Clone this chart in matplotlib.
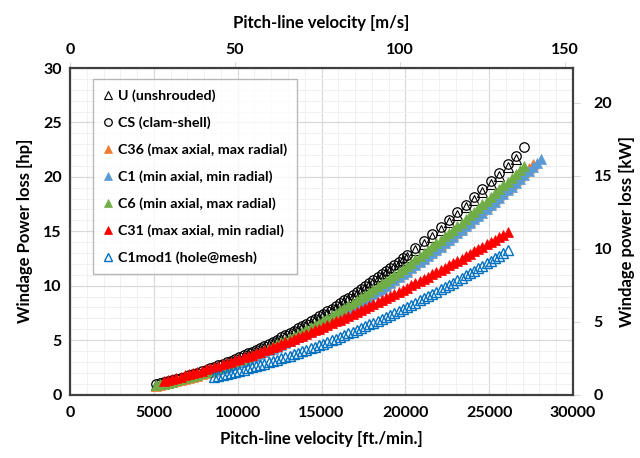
import matplotlib
matplotlib.use("Agg")
import matplotlib.pyplot as plt
from matplotlib.ticker import MultipleLocator

plt.rcParams['font.family'] = ['Lato', 'DejaVu Sans']
plt.rcParams['font.weight'] = 'bold'

# Pitch-line velocity grid [ft/min] for the triangle series
speed_ftmin = [5100, 5350, 5600, 5850, 6100, 6350, 6600, 6850, 7100, 7350,
               7600, 7850, 8100, 8350, 8600, 8850, 9100, 9350, 9600, 9850,
               10100, 10350, 10600, 10850, 11100, 11350, 11600, 11850, 12100, 12350,
               12600, 12850, 13100, 13350, 13600, 13850, 14100, 14350, 14600, 14850,
               15100, 15350, 15600, 15850, 16100, 16350, 16600, 16850, 17100, 17350,
               17600, 17850, 18100, 18350, 18600, 18850, 19100, 19350, 19600, 19850,
               20100, 20350, 20600, 20850, 21100, 21350, 21600, 21850, 22100, 22350,
               22600, 22850, 23100, 23350, 23600, 23850, 24100, 24350, 24600, 24850,
               25100, 25350, 25600, 25850, 26100, 26350, 26600, 26850, 27100, 27350,
               27600, 27850, 28100]

# Pitch-line velocity grid [ft/min] for U and CS
speed_ftmin_cs = [5100, 5350, 5600, 5850, 6100, 6350, 6600, 6850, 7100, 7350,
                  7600, 7850, 8100, 8350, 8600, 8850, 9100, 9350, 9600, 9850,
                  10100, 10350, 10600, 10850, 11100, 11350, 11600, 11850, 12100, 12350,
                  12600, 12850, 13100, 13350, 13600, 13850, 14100, 14350, 14600, 14850,
                  15100, 15350, 15600, 15850, 16100, 16350, 16600, 16850, 17100, 17350,
                  17600, 17850, 18100, 18350, 18600, 18850, 19100, 19350, 19600, 19850,
                  20100, 20600, 21100, 21600, 22100, 22600, 23100, 23600, 24100, 24600,
                  25100, 25600, 26100, 26600, 27100]

# Windage power loss [hp]; each series starts at the given grid index
u_start = 0
u_hp = [0.90, 0.99, 1.08, 1.17, 1.27, 1.37, 1.48, 1.59, 1.70, 1.82, 1.94, 2.06, 2.19, 2.32,
        2.46, 2.60, 2.74, 2.89, 3.04, 3.20, 3.36, 3.52, 3.68, 3.85, 4.02, 4.20, 4.38, 4.56,
        4.75, 4.94, 5.13, 5.33, 5.53, 5.74, 5.95, 6.16, 6.38, 6.60, 6.82, 7.05, 7.28, 7.51,
        7.75, 7.99, 8.24, 8.49, 8.74, 8.99, 9.25, 9.51, 9.78, 10.05, 10.32, 10.60, 10.88,
        11.16, 11.45, 11.74, 12.03, 12.33, 12.63, 13.24, 13.87, 14.51, 15.16, 15.83, 16.51,
        17.20, 17.91, 18.63, 19.37, 20.12, 20.88, 21.66]

cs_start = 0
cs_hp = [0.93, 1.02, 1.11, 1.21, 1.31, 1.41, 1.52, 1.63, 1.75, 1.87, 1.99, 2.12, 2.25, 2.39,
         2.53, 2.67, 2.81, 2.96, 3.12, 3.28, 3.44, 3.60, 3.77, 3.94, 4.12, 4.30, 4.48, 4.67,
         4.86, 5.05, 5.25, 5.45, 5.65, 5.86, 6.07, 6.29, 6.51, 6.73, 6.96, 7.19, 7.42, 7.66,
         7.90, 8.14, 8.39, 8.64, 8.89, 9.15, 9.41, 9.68, 9.95, 10.22, 10.49, 10.77, 11.06,
         11.34, 11.63, 11.92, 12.22, 12.52, 12.83, 13.44, 14.07, 14.72, 15.38, 16.05, 16.74,
         17.44, 18.15, 18.88, 19.62, 20.38, 21.14, 21.93, 22.72]

c36_start = 0
c36_hp = [0.80, 0.88, 0.96, 1.04, 1.13, 1.22, 1.32, 1.42, 1.52, 1.63, 1.74, 1.85, 1.96, 2.08,
          2.21, 2.33, 2.46, 2.59, 2.73, 2.87, 3.01, 3.16, 3.31, 3.46, 3.62, 3.78, 3.94, 4.11,
          4.28, 4.45, 4.63, 4.81, 4.99, 5.18, 5.37, 5.56, 5.76, 5.96, 6.16, 6.36, 6.57, 6.79,
          7.01, 7.23, 7.45, 7.67, 7.90, 8.13, 8.37, 8.61, 8.85, 9.10, 9.35, 9.60, 9.85, 10.11,
          10.37, 10.64, 10.91, 11.18, 11.45, 11.73, 12.02, 12.30, 12.58, 12.87, 13.16, 13.46,
          13.77, 14.07, 14.38, 14.68, 14.99, 15.31, 15.64, 15.96, 16.29, 16.61, 16.94, 17.28,
          17.63, 17.97, 18.31, 18.66, 19.01, 19.36, 19.72, 20.08, 20.45, 20.82, 21.19]

c1_start = 14
c1_hp = [2.18, 2.30, 2.43, 2.56, 2.69, 2.83, 2.97, 3.12, 3.27, 3.42, 3.57, 3.73, 3.89, 4.05,
         4.22, 4.39, 4.57, 4.75, 4.93, 5.11, 5.30, 5.49, 5.68, 5.88, 6.08, 6.28, 6.48, 6.70,
         6.92, 7.13, 7.35, 7.57, 7.80, 8.03, 8.26, 8.50, 8.74, 8.98, 9.23, 9.47, 9.72, 9.98,
         10.24, 10.50, 10.77, 11.03, 11.30, 11.58, 11.86, 12.14, 12.42, 12.70, 12.99, 13.29,
         13.59, 13.89, 14.19, 14.49, 14.80, 15.12, 15.44, 15.76, 16.08, 16.40, 16.72, 17.06,
         17.40, 17.73, 18.07, 18.41, 18.76, 19.11, 19.46, 19.82, 20.18, 20.54, 20.91, 21.27,
         21.64]

c6_start = 0
c6_hp = [0.84, 0.92, 1.01, 1.10, 1.19, 1.29, 1.39, 1.49, 1.60, 1.71, 1.82, 1.94, 2.06, 2.18,
         2.31, 2.44, 2.58, 2.71, 2.85, 3.00, 3.15, 3.30, 3.45, 3.61, 3.77, 3.94, 4.11, 4.28,
         4.46, 4.64, 4.82, 5.00, 5.19, 5.38, 5.58, 5.78, 5.98, 6.19, 6.40, 6.61, 6.83, 7.05,
         7.27, 7.49, 7.72, 7.95, 8.19, 8.43, 8.67, 8.92, 9.17, 9.42, 9.68, 9.94, 10.20, 10.46,
         10.73, 11.00, 11.28, 11.56, 11.84, 12.12, 12.41, 12.70, 13.00, 13.30, 13.60, 13.90,
         14.21, 14.52, 14.84, 15.15, 15.47, 15.80, 16.13, 16.46, 16.79, 17.13, 17.47, 17.81,
         18.16, 18.51, 18.86, 19.21, 19.57, 19.93, 20.30, 20.67, 21.04]

c31_start = 2
c31_hp = [1.27, 1.36, 1.46, 1.55, 1.65, 1.75, 1.86, 1.96, 2.07, 2.18, 2.30, 2.41, 2.53, 2.65,
          2.77, 2.89, 3.01, 3.14, 3.27, 3.40, 3.53, 3.66, 3.80, 3.94, 4.08, 4.22, 4.36, 4.50,
          4.65, 4.80, 4.95, 5.10, 5.26, 5.41, 5.57, 5.73, 5.89, 6.05, 6.22, 6.38, 6.55, 6.72,
          6.89, 7.06, 7.24, 7.41, 7.59, 7.77, 7.95, 8.13, 8.31, 8.49, 8.68, 8.87, 9.06, 9.25,
          9.44, 9.63, 9.83, 10.02, 10.22, 10.42, 10.62, 10.82, 11.03, 11.23, 11.44, 11.65,
          11.86, 12.07, 12.28, 12.49, 12.71, 12.92, 13.14, 13.36, 13.58, 13.80, 14.02, 14.24,
          14.47, 14.70, 14.93]

c1mod1_start = 14
c1mod1_hp = [1.61, 1.70, 1.79, 1.88, 1.98, 2.08, 2.18, 2.28, 2.39, 2.50, 2.61, 2.72, 2.84,
             2.96, 3.08, 3.20, 3.32, 3.45, 3.58, 3.71, 3.84, 3.97, 4.11, 4.25, 4.39, 4.53,
             4.68, 4.83, 4.98, 5.13, 5.29, 5.45, 5.61, 5.77, 5.93, 6.10, 6.27, 6.44, 6.61,
             6.78, 6.96, 7.14, 7.32, 7.50, 7.69, 7.88, 8.07, 8.26, 8.45, 8.65, 8.85, 9.05,
             9.25, 9.45, 9.66, 9.87, 10.08, 10.29, 10.51, 10.72, 10.94, 11.16, 11.39, 11.61,
             11.84, 12.07, 12.30, 12.53, 12.77, 13.01, 13.25]

labels = ["U (unshrouded)", "CS (clam-shell)", "C36 (max axial, max radial)",
          "C1 (min axial, min radial)", "C6 (min axial, max radial)",
          "C31 (max axial, min radial)", "C1mod1 (hole@mesh)"]

x_ticks = [0, 5000, 10000, 15000, 20000, 25000, 30000]
y_ticks = [0, 5, 10, 15, 20, 25, 30]
top_ticks = [0, 50, 100, 150]
right_ticks = [0, 5, 10, 15, 20]
HP_TO_KW = 0.7457
FTMIN_TO_MS = 0.00508

fig = plt.figure(figsize=(6.4, 4.58), dpi=100)
ax = fig.add_axes([70 / 640, 1 - 394.5 / 458, 503 / 640, 326.5 / 458])

def xs(grid, start, vals):
    return grid[start:start + len(vals)]

ms_tri = 6.5
series = [
    (speed_ftmin_cs, u_start, u_hp, dict(marker='^', mfc='none', mec='black', mew=0.8, ms=ms_tri)),
    (speed_ftmin_cs, cs_start, cs_hp, dict(marker='o', mfc='none', mec='black', mew=0.9, ms=6.8)),
    (speed_ftmin, c36_start, c36_hp, dict(marker='^', mfc='#ED7D31', mec='#ED7D31', mew=0.5, ms=ms_tri)),
    (speed_ftmin, c1_start, c1_hp, dict(marker='^', mfc='#5B9BD5', mec='#5B9BD5', mew=0.5, ms=ms_tri)),
    (speed_ftmin, c6_start, c6_hp, dict(marker='^', mfc='#70AD47', mec='#70AD47', mew=0.5, ms=ms_tri)),
    (speed_ftmin, c31_start, c31_hp, dict(marker='^', mfc='#FF0000', mec='#FF0000', mew=0.5, ms=ms_tri)),
    (speed_ftmin, c1mod1_start, c1mod1_hp, dict(marker='^', mfc='none', mec='#0070C0', mew=1.0, ms=ms_tri)),
]
handles = []
for (grid, st, vals, style), lab in zip(series, labels):
    h, = ax.plot(xs(grid, st, vals), vals, linestyle='none', label=lab, **style)
    handles.append(h)

ax.set_xlim(0, 30000)
ax.set_ylim(0, 30)
ax.set_xticks(x_ticks)
ax.set_yticks(y_ticks)
ax.xaxis.set_minor_locator(MultipleLocator(1000))
ax.yaxis.set_minor_locator(MultipleLocator(1))
ax.grid(which='major', color='#D9D9D9', linewidth=0.9, zorder=0)
ax.grid(which='minor', color='#F0F0F0', linewidth=0.7, zorder=0)
ax.set_axisbelow(True)
ax.tick_params(which='both', length=0, labelsize=11.5)
ax.tick_params(axis='x', pad=8)
ax.tick_params(axis='y', pad=6)
for lab in ax.get_xticklabels() + ax.get_yticklabels():
    lab.set_fontweight('bold')
for sp in ax.spines.values():
    sp.set_color('#404040')
    sp.set_linewidth(1.6)

ax.set_xlabel("Pitch-line velocity [ft./min.]", fontsize=12, fontweight='bold', labelpad=8)
ax.set_ylabel("Windage Power loss [hp]", fontsize=12, fontweight='bold', labelpad=7)

top = ax.secondary_xaxis('top', functions=(lambda v: v * FTMIN_TO_MS, lambda v: v / FTMIN_TO_MS))
top.set_xticks(top_ticks)
top.tick_params(length=4, color='#D9D9D9', labelsize=11.5, pad=4)
top.set_xlabel("Pitch-line velocity [m/s]", fontsize=12, fontweight='bold', labelpad=11)
for lab in top.get_xticklabels():
    lab.set_fontweight('bold')
top.spines['top'].set_visible(False)

right = ax.secondary_yaxis('right', functions=(lambda v: v * HP_TO_KW, lambda v: v / HP_TO_KW))
right.set_yticks(right_ticks)
right.tick_params(length=5, color='#D9D9D9', labelsize=11.5, pad=10)
right.set_ylabel("Windage power loss [kW]", fontsize=12, fontweight='bold', labelpad=5)
for lab in right.get_yticklabels():
    lab.set_fontweight('bold')
right.spines['right'].set_visible(False)

leg = ax.legend(handles=handles, loc='upper left', bbox_to_anchor=(0.046, 0.965),
                fontsize=10.3, frameon=True, fancybox=False, edgecolor='#A6A6A6',
                labelspacing=1.0, handlelength=0.7, handletextpad=0.35,
                borderpad=0.7, markerscale=0.8, borderaxespad=0)
leg.get_frame().set_linewidth(1.0)
for t in leg.get_texts():
    t.set_fontweight('bold')

fig.savefig("out.png", dpi=100)
